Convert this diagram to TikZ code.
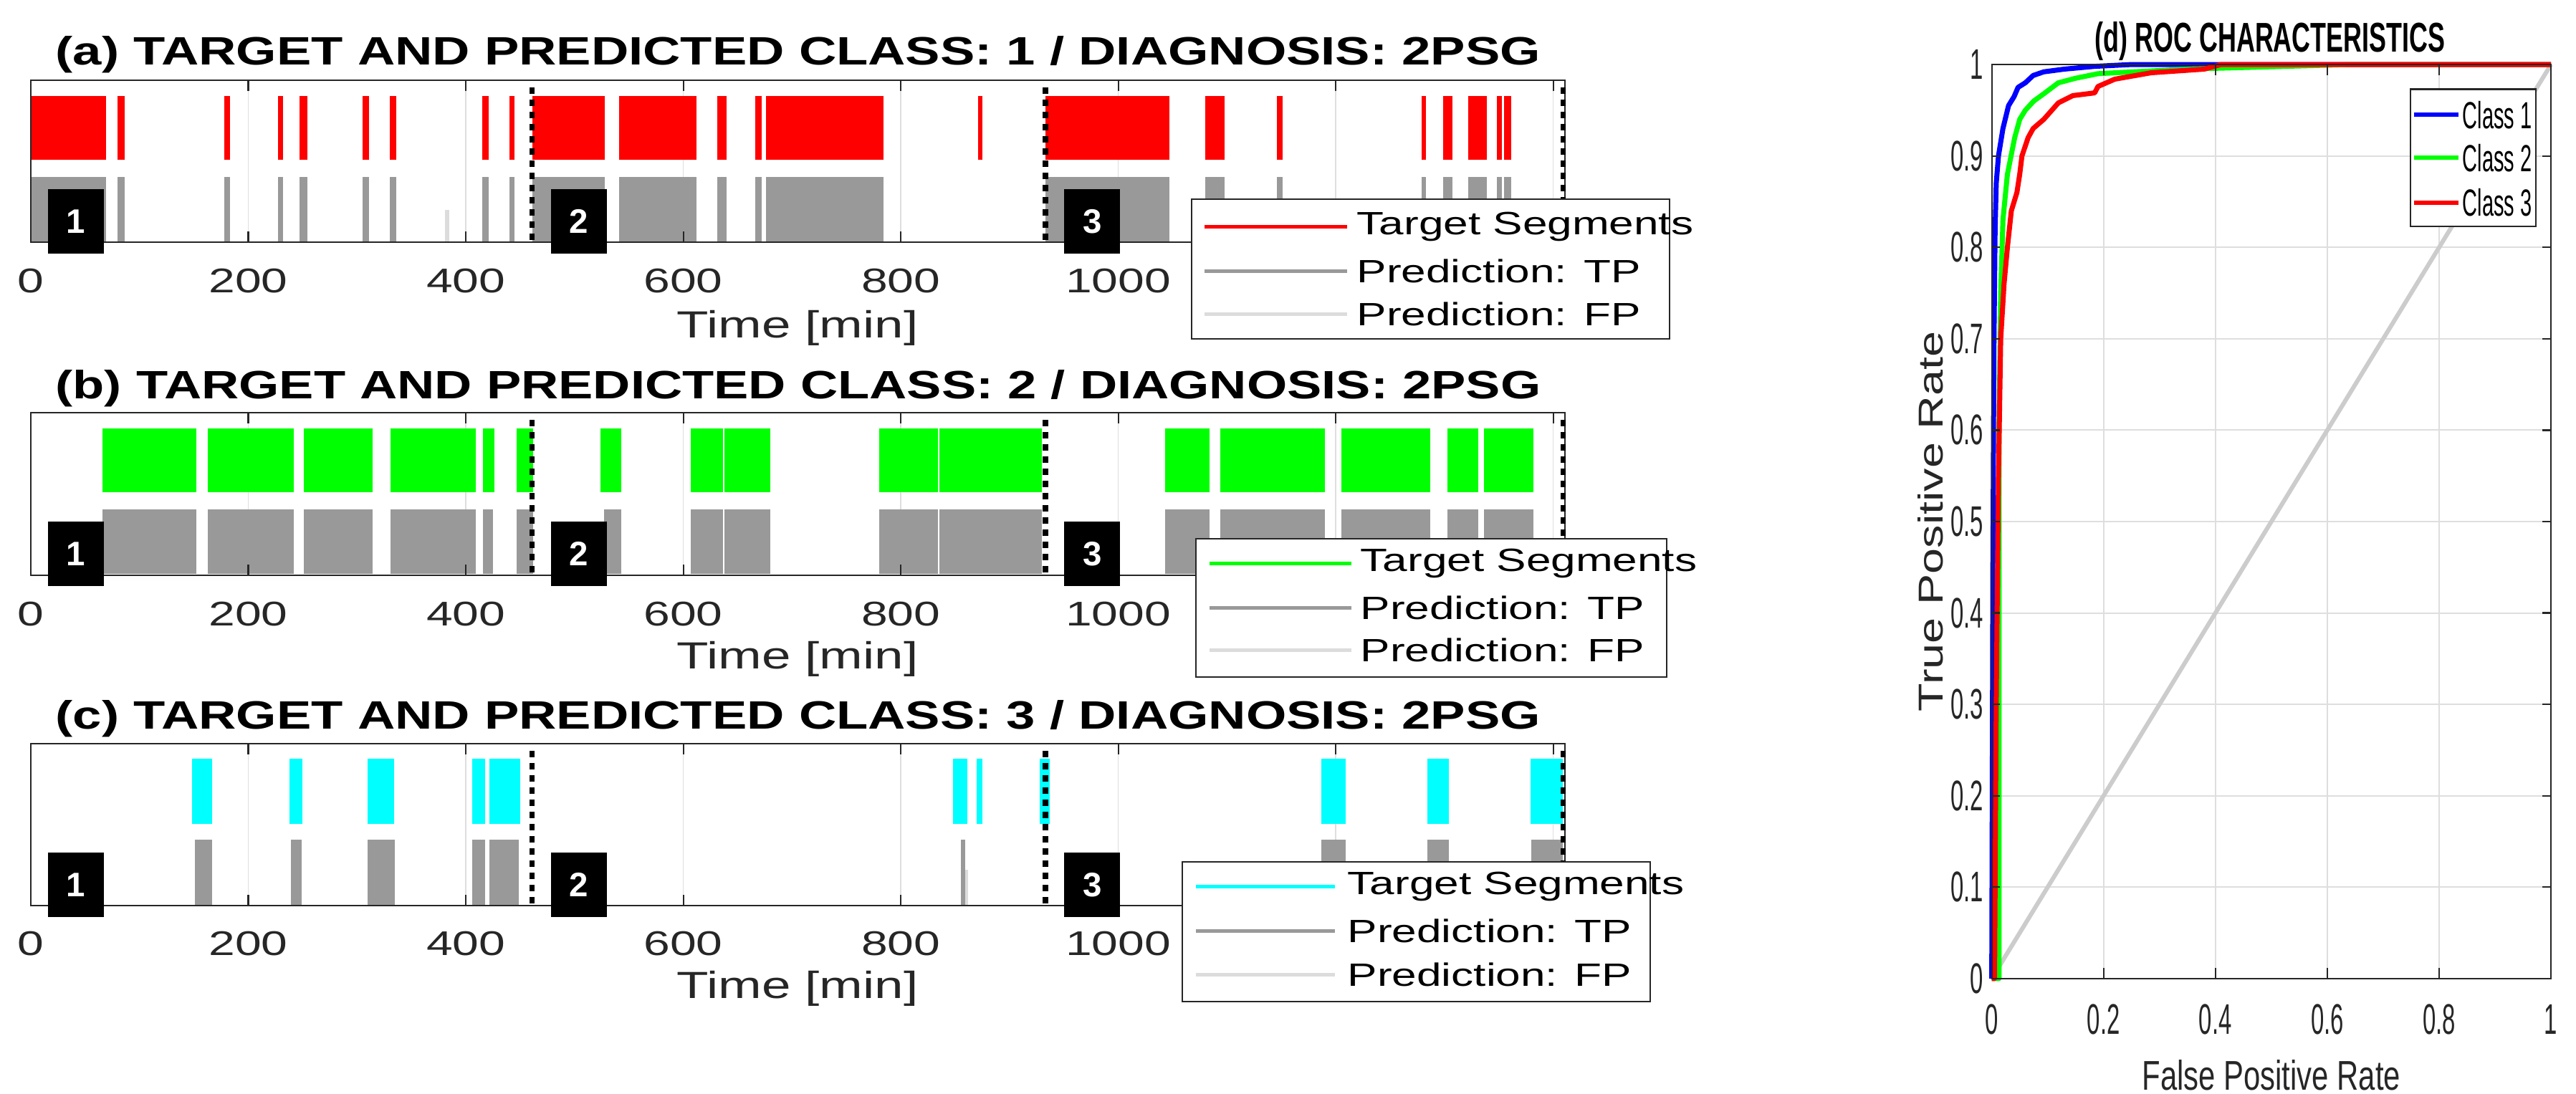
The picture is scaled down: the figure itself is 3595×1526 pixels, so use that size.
\documentclass[tikz,border=0pt]{standalone}
\usepackage{fontspec}
\setmainfont{Liberation Sans}
\usepackage{graphicx}
\definecolor{tpgray}{RGB}{153,153,153}
\definecolor{fpgray}{RGB}{220,220,220}
\definecolor{gridgray}{RGB}{222,222,222}
\definecolor{cgreen}{RGB}{0,255,0}
\definecolor{ccyan}{RGB}{0,255,255}
\newcommand\hs[1]{\scalebox{1.38}[1]{#1}}
\newcommand\cs[1]{\scalebox{0.55}[1]{#1}}
\newcommand\mysegs[4]{\foreach \a/\b in {#4} {\fill[#1] (\a,#2) rectangle (\b,#3);}}
\tikzset{
 gridc/.style={draw=gridgray, line width=0.014cm},
 frame/.style={draw=black!85, line width=0.022cm},
 dotl/.style={line width=0.075cm, dash pattern=on 0.09cm off 0.08cm},
 badge/.style={fill=black, text=white, font=\bfseries\fontsize{13.5pt}{13.5pt}\selectfont, minimum width=0.78cm, minimum height=0.9cm, inner sep=0pt},
 tickl/.style={font=\fontsize{13.6pt}{14pt}\selectfont, text=black!85, inner sep=0pt},
 legt/.style={font=\fontsize{12.8pt}{13pt}\selectfont, anchor=west, inner sep=0pt},
 legbox/.style={draw=black!85, fill=white, line width=0.022cm},
 legl/.style={line width=0.05cm},
 timel/.style={font=\fontsize{15pt}{15pt}\selectfont, text=black!85, inner sep=0pt},
 roct/.style={font=\fontsize{17pt}{17pt}\selectfont, text=black!85, inner sep=0pt},
 curve/.style={line width=0.07cm, line join=round},
}
\begin{document}
\begin{tikzpicture}[x=0.01cm,y=-0.01cm]
\useasboundingbox[fill=white] (0,0) rectangle (3595,1526);

% ---------------- Panel (a)
\node[anchor=base west, inner sep=0pt] (ta) at (77,90) {\resizebox{20.71cm}{0.40cm}{\bfseries (a) TARGET AND PREDICTED CLASS: 1 / DIAGNOSIS: 2PSG}};
\begin{scope}[xshift=0.43cm, x=0.01517cm]
 \foreach \t in {200,400,...,1400} \draw[gridc] (\t,112) -- (\t,338);
 \mysegs{red}{134}{223}{0/69,80/86,178/183,227/232,247/254,305/311,330/336,415/421,440/445,461/528,541/612,631/640,666/672,676/784,871/875,933/1047,1080/1098,1146/1151,1279/1283,1299/1307,1322/1339,1348/1353,1355/1361}
 \mysegs{tpgray}{247}{338}{0/69,80/86,178/183,227/232,247/254,305/311,330/336,415/421,440/445,461/528,541/612,631/640,666/672,676/784,933/1047,1080/1098,1146/1151,1279/1283,1299/1307,1322/1339,1348/1353,1355/1361}
 \fill[fpgray] (381,293) rectangle (385,338);
 \draw[frame] (0,112) rectangle (1411,338);
 \foreach \t in {200,400,...,1400} {\draw[frame] (\t,112) -- (\t,127); \draw[frame] (\t,338) -- (\t,323);}
 \foreach \t in {461,933,1409} \draw[dotl] (\t,122) -- (\t,338);
 \node[badge] (a1) at (41.5,309) {1};
 \node[badge] (a2) at (504,309) {2};
 \node[badge] (a3) at (976,309) {3};
 \foreach \t in {0,200,...,1000} \node[tickl] at (\t,392) {\hs{\t}};
 \node[timel] (xa) at (705,458) {\hs{Time [min]}};
\end{scope}
\draw[legbox] (1663,278) rectangle (2330,473);
\draw[legl, red] (1681,316) -- (1880,316);
\draw[legl, tpgray] (1681,378) -- (1880,378);
\draw[legl, fpgray] (1681,438) -- (1880,438);
\node[legt] at (1893,316) {\hs{Target Segments}};
\node[legt] at (1893,378) {\hs{Prediction: TP}};
\node[legt] at (1893,438) {\hs{Prediction: FP}};

% ---------------- Panel (b)
\node[anchor=base west, inner sep=0pt] (tb) at (77,556) {\resizebox{20.71cm}{0.40cm}{\bfseries (b) TARGET AND PREDICTED CLASS: 2 / DIAGNOSIS: 2PSG}};
\begin{scope}[xshift=0.43cm, x=0.01517cm]
 \foreach \t in {200,400,...,1400} \draw[gridc] (\t,576) -- (\t,803);
 \mysegs{cgreen}{598}{687}{66/152,163/242,251/314,331/409,416/426,447/462,524/543,607/636.5,637.5/680,780/834.5,835.5/930,1043/1084,1094/1190,1205/1287,1303/1331,1336/1382}
 \mysegs{tpgray}{711}{801}{66/152,163/242,251/314,331/409,416/425,447/462,527/543,607/636.5,637.5/680,780/834.5,835.5/930,1043/1084,1094/1190,1205/1287,1303/1331,1336/1382}
 \draw[frame] (0,576) rectangle (1411,803);
 \foreach \t in {200,400,...,1400} {\draw[frame] (\t,576) -- (\t,591); \draw[frame] (\t,803) -- (\t,788);}
 \foreach \t in {461,933,1409} \draw[dotl] (\t,586) -- (\t,803);
 \node[badge] (b1) at (41.5,773) {1};
 \node[badge] (b2) at (504,773) {2};
 \node[badge] (b3) at (976,773) {3};
 \foreach \t in {0,200,...,1000} \node[tickl] at (\t,857) {\hs{\t}};
 \node[timel] (xb) at (705,920) {\hs{Time [min]}};
\end{scope}
\draw[legbox] (1669,752) rectangle (2326,945);
\draw[legl, cgreen] (1688,786) -- (1886,786);
\draw[legl, tpgray] (1688,848) -- (1886,848);
\draw[legl, fpgray] (1688,907) -- (1886,907);
\node[legt] at (1898,786) {\hs{Target Segments}};
\node[legt] at (1898,848) {\hs{Prediction: TP}};
\node[legt] at (1898,907) {\hs{Prediction: FP}};

% ---------------- Panel (c)
\node[anchor=base west, inner sep=0pt] (tc) at (77,1017) {\resizebox{20.71cm}{0.40cm}{\bfseries (c) TARGET AND PREDICTED CLASS: 3 / DIAGNOSIS: 2PSG}};
\begin{scope}[xshift=0.43cm, x=0.01517cm]
 \foreach \t in {200,400,...,1400} \draw[gridc] (\t,1038) -- (\t,1264);
 \mysegs{ccyan}{1059}{1150}{148/167,238/250,310/334,406/418,422/450,848/861,870/875,928/937,1187/1209,1284/1304,1379/1409}
 \mysegs{tpgray}{1172}{1264}{151/167,239/249,310/335,406/418,422/449,855/859,1187/1209,1284/1304,1380/1409}
 \fill[fpgray] (859,1214) rectangle (862,1264);
 \draw[frame] (0,1038) rectangle (1411,1264);
 \foreach \t in {200,400,...,1400} {\draw[frame] (\t,1038) -- (\t,1053); \draw[frame] (\t,1264) -- (\t,1249);}
 \foreach \t in {461,933,1409} \draw[dotl] (\t,1048) -- (\t,1264);
 \node[badge] (c1) at (41.5,1235) {1};
 \node[badge] (c2) at (504,1235) {2};
 \node[badge] (c3) at (976,1235) {3};
 \foreach \t in {0,200,...,1000} \node[tickl] at (\t,1317) {\hs{\t}};
 \node[timel] (xc) at (705,1380) {\hs{Time [min]}};
\end{scope}
\draw[legbox] (1650,1203) rectangle (2303,1398);
\draw[legl, ccyan] (1669,1237) -- (1863,1237);
\draw[legl, tpgray] (1669,1299) -- (1863,1299);
\draw[legl, fpgray] (1669,1360) -- (1863,1360);
\node[legt] at (1880,1237) {\hs{Target Segments}};
\node[legt] at (1880,1299) {\hs{Prediction: TP}};
\node[legt] at (1880,1360) {\hs{Prediction: FP}};

% ---------------- Panel (d) ROC
\node[anchor=base, inner sep=0pt] (td) at (3168,72) {\resizebox{4.88cm}{0.42cm}{\bfseries (d) ROC CHARACTERISTICS}};
\begin{scope}[xshift=27.78cm, yshift=-13.65cm, x=7.8cm, y=12.75cm]
 \foreach \v in {0.2,0.4,0.6,0.8} \draw[gridc, line width=0.02cm] (\v,0) -- (\v,1);
 \foreach \v in {0.1,0.2,...,0.95} \draw[gridc, line width=0.02cm] (0,\v) -- (1,\v);
 \draw[black!20, line width=0.06cm] (0,0) -- (1,1);
 \draw[curve, blue] (0,0) -- (0.002,0.45) -- (0.004,0.7) -- (0.006,0.82) -- (0.008,0.87) -- (0.012,0.9) -- (0.02,0.93) -- (0.03,0.955) -- (0.04,0.965) -- (0.047,0.975) -- (0.06,0.98) -- (0.074,0.988) -- (0.093,0.992) -- (0.13,0.995) -- (0.184,0.998) -- (0.25,1) -- (1,1);
 \draw[curve, cgreen] (0,0) -- (0.013,0) -- (0.013,0.6) -- (0.016,0.75) -- (0.02,0.83) -- (0.028,0.88) -- (0.041,0.92) -- (0.05,0.94) -- (0.06,0.95) -- (0.075,0.96) -- (0.093,0.968) -- (0.119,0.98) -- (0.15,0.985) -- (0.19,0.99) -- (0.35,0.995) -- (0.64,1) -- (1,1);
 \draw[curve, red] (0,0) -- (0.005,0) -- (0.008,0.3) -- (0.012,0.55) -- (0.016,0.7) -- (0.022,0.76) -- (0.028,0.8) -- (0.035,0.84) -- (0.045,0.86) -- (0.05,0.88) -- (0.054,0.9) -- (0.065,0.92) -- (0.074,0.93) -- (0.093,0.94) -- (0.119,0.958) -- (0.145,0.966) -- (0.184,0.969) -- (0.19,0.976) -- (0.22,0.984) -- (0.285,0.991) -- (0.38,0.995) -- (0.41,1) -- (1,1);
 \draw[frame] (0,0) rectangle (1,1);
 \foreach \v in {0.2,0.4,0.6,0.8} {\draw[frame] (\v,0) -- (\v,0.012); \draw[frame] (\v,1) -- (\v,0.988);}
 \foreach \v in {0.1,0.2,...,0.95} {\draw[frame] (0,\v) -- (0.015,\v); \draw[frame] (1,\v) -- (0.985,\v);}
 \foreach \v/\l in {0/0,0.1/0.1,0.2/0.2,0.3/0.3,0.4/0.4,0.5/0.5,0.6/0.6,0.7/0.7,0.8/0.8,0.9/0.9,1/1} \node[roct, anchor=east] at (-0.014,\v) {\cs{\l}};
 \foreach \v/\l in {0/0,0.2/0.2,0.4/0.4,0.6/0.6,0.8/0.8,1/1} \node[roct] at (\v,-0.045) {\cs{\l}};
 \node[inner sep=0pt] (xl) at (0.5,-0.106) {\resizebox{3.6cm}{0.42cm}{\color{black!85}False Positive Rate}};
 \node[inner sep=0pt, rotate=90] (yl) at (-0.109,0.5) {\resizebox{5.3cm}{0.35cm}{\color{black!85}True Positive Rate}};
 \draw[legbox] (0.749,0.823) rectangle (0.973,0.973);
 \draw[line width=0.06cm, blue] (0.755,0.945) -- (0.834,0.945);
 \draw[line width=0.06cm, cgreen] (0.755,0.898) -- (0.834,0.898);
 \draw[line width=0.06cm, red] (0.755,0.849) -- (0.834,0.849);
 \node[roct, anchor=west, text=black, font=\fontsize{15pt}{15pt}\selectfont] at (0.841,0.945) {\cs{Class 1}};
 \node[roct, anchor=west, text=black, font=\fontsize{15pt}{15pt}\selectfont] at (0.841,0.898) {\cs{Class 2}};
 \node[roct, anchor=west, text=black, font=\fontsize{15pt}{15pt}\selectfont] at (0.841,0.849) {\cs{Class 3}};
\end{scope}
\end{tikzpicture}
\end{document}
